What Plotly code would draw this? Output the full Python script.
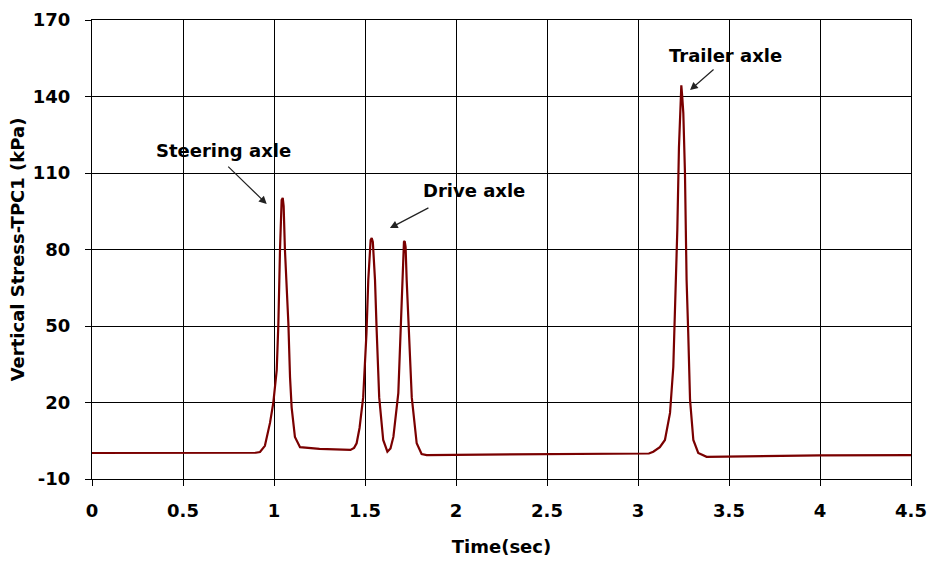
import plotly.graph_objects as go

time_sec = [0, 0.5, 0.85, 0.90, 0.923, 0.95, 0.978, 0.996, 1.015, 1.024, 1.033, 1.042, 1.048, 1.053,
            1.060, 1.079, 1.088, 1.097, 1.115, 1.143, 1.25, 1.35, 1.42, 1.44, 1.454, 1.47, 1.49, 1.508,
            1.518, 1.531, 1.537, 1.543, 1.555, 1.564, 1.578, 1.60, 1.623, 1.64, 1.656, 1.683, 1.696,
            1.705, 1.714, 1.718, 1.723, 1.729, 1.742, 1.757, 1.784, 1.811, 1.839, 2.2, 2.6, 3.0, 3.06,
            3.084, 3.12, 3.148, 3.176, 3.194, 3.203, 3.216, 3.225, 3.231, 3.238, 3.243, 3.249, 3.258,
            3.267, 3.276, 3.286, 3.304, 3.331, 3.377, 3.6, 4.0, 4.5]
stress_kpa = [0.2, 0.2, 0.2, 0.3, 0.6, 3.0, 12, 19.8, 32.7, 51, 80, 99.4, 100.2, 97,
              80, 51, 30, 18, 6.5, 2.5, 1.8, 1.5, 1.4, 2.2, 4, 10, 22, 47,
              68, 83.7, 84.5, 83, 68, 48.4, 22, 5.3, 0.7, 2, 6.5, 23.7, 48.4,
              68, 83, 83.3, 81, 68, 48.4, 22, 4, -0.2, -0.6, -0.5, -0.4, -0.3, 0.0,
              0.7, 2.5, 5.3, 15.9, 34, 55, 87.6, 120, 136, 144.4, 140, 133.5, 110,
              68, 47.2, 21, 5.3, 0.2, -1.3, -1.0, -0.7, -0.6]

x_ticks = [0, 0.5, 1, 1.5, 2, 2.5, 3, 3.5, 4, 4.5]
y_ticks = [-10, 20, 50, 80, 110, 140, 170]

labels = ["Steering axle", "Drive axle", "Trailer axle"]
label_pos = [(0.72, 119), (2.10, 103.3), (3.478, 156.2)]
arrow_head = [(0.960, 97.8), (1.637, 88.4), (3.286, 142.5)]
arrow_tail_offset = [(-40, -39), (40, -21), (25, -22)]

FONT = "DejaVu Sans, Arial, sans-serif"
FS = 18

fig = go.Figure()
fig.add_trace(go.Scatter(x=time_sec, y=stress_kpa, mode="lines",
                         line=dict(color="#7a0000", width=2.2), showlegend=False))

for txt, (tx, ty) in zip(labels, label_pos):
    fig.add_annotation(x=tx, y=ty, text="<b>%s</b>" % txt, showarrow=False,
                       font=dict(family=FONT, size=FS, color="black"))
for (hx, hy), (ax, ay) in zip(arrow_head, arrow_tail_offset):
    fig.add_annotation(x=hx, y=hy, ax=ax, ay=ay, text="", showarrow=True,
                       arrowhead=2, arrowsize=1.3, arrowwidth=1.2, arrowcolor="#222")

axis_common = dict(showline=True, linecolor="black", linewidth=1, mirror=True,
                   showgrid=True, gridcolor="black", gridwidth=1, zeroline=False,
                   ticks="outside", ticklen=6, tickcolor="black", automargin=False,
                   tickfont=dict(family=FONT, size=FS, color="black", weight="bold"))

fig.update_xaxes(range=[0, 4.5], tickvals=x_ticks, ticktext=[f"{v:g}" for v in x_ticks],
                 ticklabelstandoff=9,
                 title=dict(text="<b>Time(sec)</b>", font=dict(family=FONT, size=FS, color="black"),
                            standoff=20),
                 **axis_common)
fig.update_yaxes(range=[-10, 170], tickvals=y_ticks, ticktext=[f"{v:g}" for v in y_ticks],
                 ticklabelstandoff=11,
                 title=dict(text="<b>Vertical Stress-TPC1 (kPa)</b>",
                            font=dict(family=FONT, size=FS, color="black"), standoff=3),
                 **axis_common)

fig.update_layout(width=928, height=562, margin=dict(l=92, r=17, t=20, b=83),
                  paper_bgcolor="white", plot_bgcolor="white")

fig.write_html("out.html")
